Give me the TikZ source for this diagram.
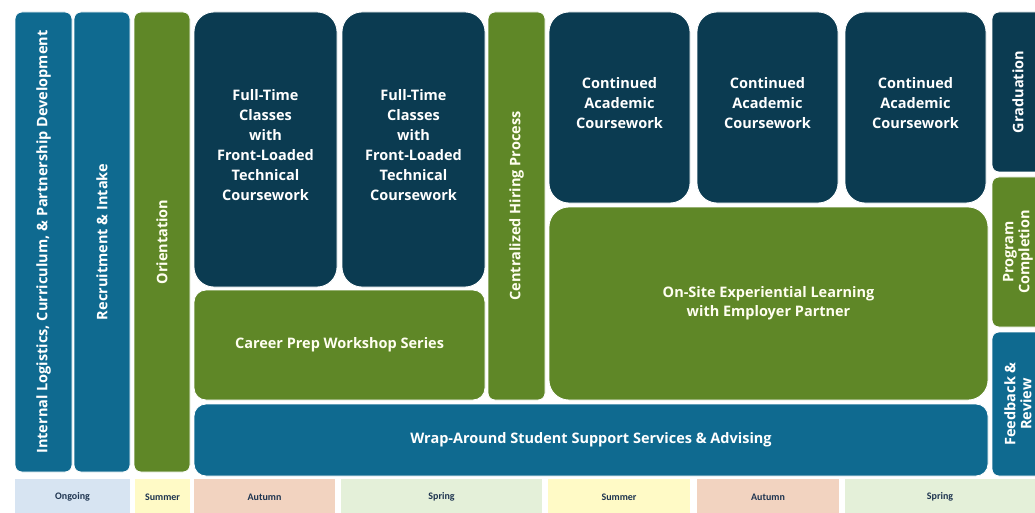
\documentclass[tikz,border=0pt]{standalone}
\usepackage{fontspec}
\setmainfont{Open Sans}
\newfontfamily\termfont{Carlito}
\usepackage{xcolor}
\definecolor{PathBlue}{RGB}{15,106,144}
\definecolor{PathNavy}{RGB}{11,59,81}
\definecolor{PathGreen}{RGB}{95,135,39}
\definecolor{TermBlue}{RGB}{215,228,242}
\definecolor{TermYellow}{RGB}{255,250,198}
\definecolor{TermSalmon}{RGB}{242,211,192}
\definecolor{TermGreen}{RGB}{228,240,217}
\definecolor{TermText}{RGB}{30,52,80}

\begin{document}
\begin{tikzpicture}[x=1pt,y=-1pt,
    block/.style={rounded corners=12pt, draw=white, line width=0.8pt,
        inner sep=2pt, align=center, text=white,
        font=\bfseries\fontsize{14.5}{20}\selectfont},
    bar/.style={block, rounded corners=7pt, rotate=90},
    blue block/.style={block, fill=PathBlue},
    navy block/.style={block, fill=PathNavy, rounded corners=20pt, text depth=9pt},
    green block/.style={block, fill=PathGreen, text=white!94!yellow},
    term/.style={rectangle, inner sep=0pt, text=TermText,
        font=\termfont\bfseries\fontsize{10}{11}\selectfont}]

    \clip (0,0) rectangle (1035,513);
    \fill[white] (0,0) rectangle (1035,513);

    % tall bars on the left
    \node[bar, fill=PathBlue, minimum width=460pt, minimum height=57pt] (intl) at (43.5,242)
        {Internal Logistics, Curriculum, \& Partnership Development};
    \node[bar, fill=PathBlue, minimum width=460pt, minimum height=56pt] (recruit) at (102,242)
        {Recruitment \& Intake};
    \node[bar, fill=PathGreen, text=white!94!yellow, minimum width=460pt, minimum height=56pt] (orient) at (162,242)
        {Orientation};

    % first year
    \node[navy block, minimum width=143pt, minimum height=275pt] (class1) at (265.5,149.5)
        {Full-Time\\Classes\\with\\Front-Loaded\\Technical\\Coursework};
    \node[navy block, minimum width=143pt, minimum height=275pt] (class2) at (413.5,149.5)
        {Full-Time\\Classes\\with\\Front-Loaded\\Technical\\Coursework};
    \node[green block, minimum width=291pt, minimum height=110pt] (career) at (339.5,345)
        {Career Prep Workshop Series};
    \node[bar, fill=PathGreen, text=white!94!yellow, minimum width=388pt, minimum height=57pt] (hiring) at (516.5,206)
        {Centralized Hiring Process};

    % second year
    \node[navy block, minimum width=141pt, minimum height=191pt] (course1) at (619.5,107.5)
        {Continued\\Academic\\Coursework};
    \node[navy block, minimum width=141pt, minimum height=191pt] (course2) at (767.5,107.5)
        {Continued\\Academic\\Coursework};
    \node[navy block, minimum width=141pt, minimum height=191pt] (course3) at (915.5,107.5)
        {Continued\\Academic\\Coursework};
    \node[green block, rounded corners=20pt, minimum width=439pt, minimum height=193pt, font=\bfseries\fontsize{14.5}{19}\selectfont] (onsite) at (768.5,303.5)
        {On-Site Experiential Learning\\with Employer Partner};
    \node[blue block, minimum width=794pt, minimum height=72pt] (support) at (591,440)
        {Wrap-Around Student Support Services \& Advising};

    % wrap-up column
    \node[bar, fill=PathNavy, minimum width=160pt, minimum height=52pt] (grad) at (1018,92)
        {Graduation};
    \node[bar, fill=PathGreen, text=white!94!yellow, minimum width=150pt, minimum height=52pt,
        font=\bfseries\fontsize{14.5}{16}\selectfont] (complete) at (1018,252)
        {Program\\Completion};
    \node[bar, fill=PathBlue, minimum width=144pt, minimum height=52pt,
        font=\bfseries\fontsize{14.5}{16}\selectfont] (review) at (1018,404)
        {Feedback \&\\Review};

    % terms along the bottom
    \node[term, fill=TermBlue, minimum width=115pt, minimum height=36pt] (ongoing) at (72.5,497) {Ongoing};
    \node[term, fill=TermYellow, minimum width=55pt, minimum height=36pt] (summer1) at (162.5,497) {Summer};
    \node[term, fill=TermSalmon, minimum width=141pt, minimum height=36pt] (autumn1) at (264.5,497) {Autumn};
    \node[term, fill=TermGreen, minimum width=201pt, minimum height=36pt] (spring1) at (441.5,497) {Spring};
    \node[term, fill=TermYellow, minimum width=142pt, minimum height=36pt] (summer2) at (619,497) {Summer};
    \node[term, fill=TermSalmon, minimum width=142pt, minimum height=36pt] (autumn2) at (768,497) {Autumn};
    \node[term, fill=TermGreen, minimum width=190pt, minimum height=36pt] (spring2) at (940,497) {Spring};

\end{tikzpicture}
\end{document}
